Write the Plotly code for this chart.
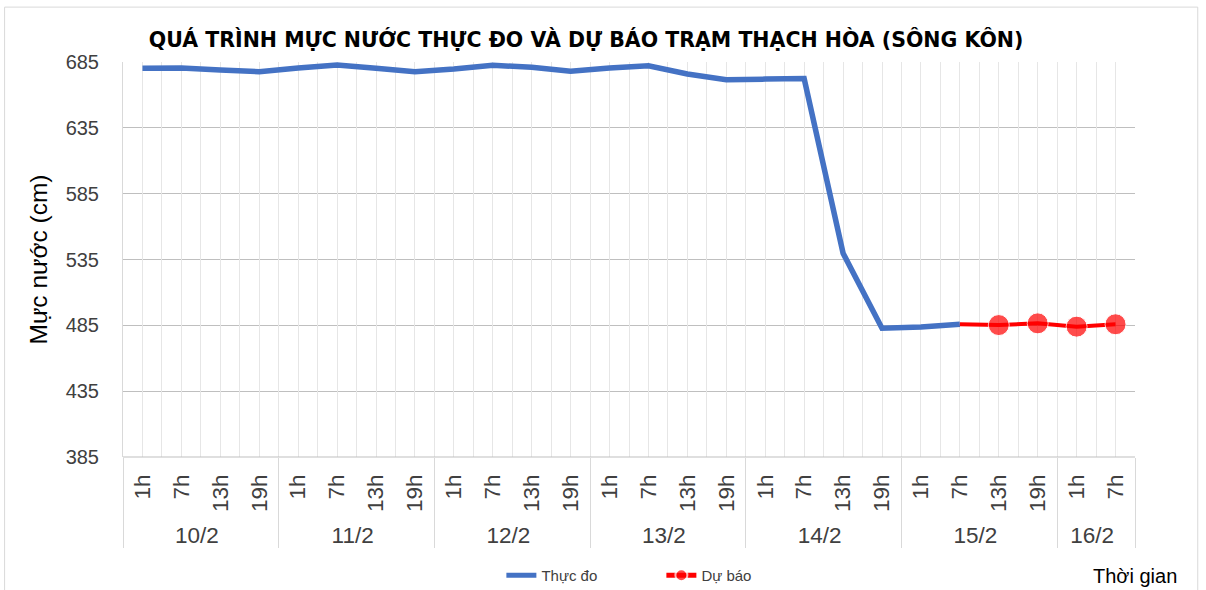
import plotly.graph_objects as go

# ---- data ----
day_labels = ["10/2", "11/2", "12/2", "13/2", "14/2", "15/2", "16/2"]
hours_per_day = [
    ["1h", "7h", "13h", "19h"],
    ["1h", "7h", "13h", "19h"],
    ["1h", "7h", "13h", "19h"],
    ["1h", "7h", "13h", "19h"],
    ["1h", "7h", "13h", "19h"],
    ["1h", "7h", "13h", "19h"],
    ["1h", "7h"],
]
observed = [680.2, 680.4, 678.9, 677.6, 680.4, 682.7, 680.2, 677.6, 679.7, 682.5,
            681.0, 678.0, 680.4, 682.2, 675.9, 671.6, 672.0, 672.4, 539.8, 482.8,
            483.7, 485.8]
forecast = [485.8, 485.2, 486.5, 484.0, 485.8]  # starts at the last observed time
y_ticks = [385, 435, 485, 535, 585, 635, 685]

title = "QUÁ TRÌNH MỰC NƯỚC THỰC ĐO VÀ DỰ BÁO TRẠM THẠCH HÒA (SÔNG KÔN)"

# ---- build categories ----
cat_day, cat_hour = [], []
for d, hs in zip(day_labels, hours_per_day):
    for h in hs:
        cat_day.append(d)
        cat_hour.append(h)
n = len(cat_day)
start_fc = len(observed) - 1

fig = go.Figure()
fig.add_trace(go.Scatter(
    x=[cat_day[:len(observed)], cat_hour[:len(observed)]], y=observed,
    mode="lines", name="Thực đo",
    line=dict(color="#4472C4", width=5.5),
))
fig.add_trace(go.Scatter(
    x=[cat_day[start_fc:start_fc + len(forecast)], cat_hour[start_fc:start_fc + len(forecast)]],
    y=forecast, mode="lines+markers", name="Dự báo",
    line=dict(color="#FF0000", width=4),
    marker=dict(color="#FF0000", size=[0] + [21] * (len(forecast) - 1)),
))

# helper overlay axis for half-category vertical gridlines
fig.add_trace(go.Scatter(x=[-0.5, n - 0.5], y=[None, None], xaxis="x2",
                         showlegend=False, hoverinfo="skip"))

font_main = "Liberation Sans, Arial, sans-serif"

fig.update_layout(
    width=1206, height=590,
    margin=dict(l=123, r=71, t=62, b=133, autoexpand=False),
    paper_bgcolor="white", plot_bgcolor="white",
    font=dict(family=font_main, color="#404040"),
    title=dict(text="<b>" + title + "</b>", x=0.486, xanchor="center",
               yref="container", y=0.932, yanchor="middle",
               font=dict(size=20.5, color="#000000", family="DejaVu Sans, sans-serif")),
    showlegend=True,
    legend=dict(orientation="h", x=0.532, xanchor="center", y=-0.30, yanchor="middle",
                font=dict(size=15, color="#404040"), bgcolor="rgba(0,0,0,0)",
                entrywidth=115, itemsizing="constant"),
    xaxis=dict(
        type="multicategory", range=[-0.5, n - 0.5], autorange=False,
        showgrid=False, tickangle=-90, automargin=False,
        tickfont=dict(size=22.5, color="#404040"), ticklabelstandoff=12,
        showdividers=True, dividercolor="#d9d9d9", dividerwidth=1,
        showline=False, ticks="", zeroline=False,
    ),
    xaxis2=dict(
        overlaying="x", range=[-0.5, n - 0.5], tick0=0, dtick=0.5,
        showgrid=True, gridcolor="#e6e6e6", gridwidth=1,
        showticklabels=False, ticks="", showline=False, zeroline=False,
    ),
    yaxis=dict(
        range=[385, 685], tickvals=y_ticks, ticktext=[str(v) for v in y_ticks],
        showgrid=True, gridcolor="#bfbfbf", gridwidth=1, automargin=False,
        tickfont=dict(size=20, color="#404040"), ticks="", zeroline=False,
        ticklabelstandoff=19,
        showline=True, linecolor="#d9d9d9",
        title=dict(text="Mực nước (cm)", font=dict(size=24.5, color="#000000"), standoff=11),
    ),
    annotations=[
        dict(text="Thời gian", xref="paper", yref="paper", x=1.0, y=-0.30,
             xanchor="center", yanchor="middle", showarrow=False,
             font=dict(size=20, color="#000000")),
    ],
    shapes=[
        dict(type="line", xref="paper", yref="paper", x0=0, x1=1, y0=0, y1=0,
             line=dict(color="#bfbfbf", width=1)),
        dict(type="rect", xref="paper", yref="paper", x0=-0.117, x1=1.062, y0=-0.345, y1=1.139,
             line=dict(color="#d9d9d9", width=1), layer="below"),
    ],
)

fig.write_html("out.html", config={"displayModeBar": False},
               post_script="document.body.style.margin='0';")
